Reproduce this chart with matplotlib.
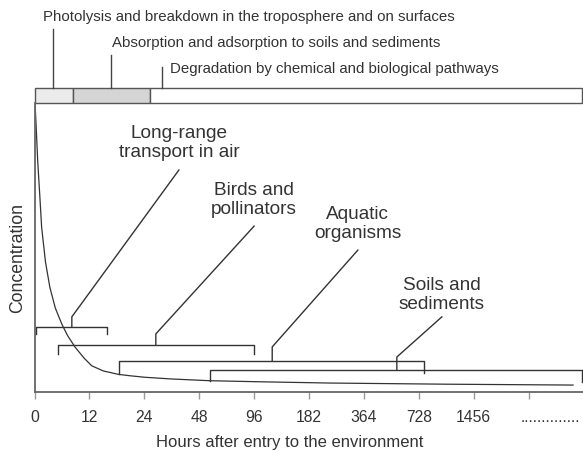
import numpy as np
import matplotlib.pyplot as plt
import matplotlib.transforms as mtransforms
from matplotlib.patches import Rectangle

plt.rcParams['font.family'] = ['Liberation Sans', 'DejaVu Sans']

# eixo x: posicoes igualmente espacadas, rotulos em horas
tick_pos = list(range(11))
tick_labels = ['0', '12', '24', '48', '96', '182', '364', '728', '1456', '', '']

# curva de concentracao (unidades arbitrarias)
curve_x = [0.01, 0.03, 0.058, 0.10, 0.13, 0.20, 0.28, 0.38, 0.50, 0.60, 0.74, 0.90,
           1.04, 1.25, 1.53, 1.75, 2.01, 2.50, 3.20, 4.20, 5.38, 7.50, 9.81]
curve_y = [99.7, 92.0, 80.0, 66.8, 57.0, 45.0, 36.2, 29.0, 23.4, 19.6, 15.5, 11.8,
           9.1, 7.3, 6.1, 5.6, 5.1, 4.5, 3.9, 3.5, 3.1, 2.7, 2.4]

# fases na barra superior
phase_edges = [0, 0.70, 2.10, 9.97]
phase_names = ['Photolysis and breakdown in the troposphere and on surfaces',
               'Absorption and adsorption to soils and sediments',
               'Degradation by chemical and biological pathways']
phase_mark = [0.34, 1.39, 2.32]

# chaves (janelas de exposicao)
bracket_names = ['Long-range\ntransport in air', 'Birds and\npollinators',
                 'Aquatic\norganisms', 'Soils and\nsediments']
bracket_start = [0.03, 0.43, 1.54, 3.20]
bracket_end = [1.32, 4.0, 7.09, 9.97]
bracket_level = [22.5, 16.4, 10.8, 7.7]
bracket_left_foot = [20.1, 13.1, 6.2, 3.8]
bracket_right_foot = [20.1, 13.1, 6.6, 3.5]
bracket_apex = [0.68, 2.21, 4.33, 6.60]

dark = '#333333'

fig = plt.figure(figsize=(5.83, 4.52), dpi=100)
ax = fig.add_axes([34.5 / 583, 59 / 452, 549 / 583, 289 / 452])
ax.set_xlim(0, 10)
ax.set_ylim(0, 100)

ax.plot(curve_x, curve_y, color=dark, lw=0.9)

# chaves
notch_up = [3.5, 3.7, 4.8, 4.4]
label_x = [2.63, 4.0, 5.89, 7.42]
label_y = [86.5, 66.8, 58.5, 33.9]
leader_top = [76.8, 57.4, 49.1, 26.0]
for i in range(len(bracket_names)):
    x0, x1 = bracket_start[i], bracket_end[i]
    lv = bracket_level[i]
    ax.plot([x0, x0, x1, x1], [bracket_left_foot[i], lv, lv, bracket_right_foot[i]],
            color=dark, lw=1.0, solid_joinstyle='round')
    a = bracket_apex[i]
    ax.plot([a, a, label_x[i]], [lv, lv + notch_up[i], leader_top[i]], color=dark, lw=1.0)
    ax.text(label_x[i], label_y[i], bracket_names[i], ha='center', va='center',
            fontsize=13.7, color=dark, linespacing=1.15)

# barra superior
trans = mtransforms.blended_transform_factory(ax.transData, ax.transAxes)
fills = ['#ebebeb', '#d5d5d5', 'white']
for i in range(3):
    ax.add_patch(Rectangle((phase_edges[i], 1.0), phase_edges[i + 1] - phase_edges[i], 0.052,
                           transform=trans, clip_on=False, facecolor=fills[i],
                           edgecolor='#555555', lw=1.0))
text_x = [0.16, 1.41, 2.47]
text_y = [1.301, 1.211, 1.121]
mark_top = [1.256, 1.166, 1.125]
for i in range(3):
    ax.plot([phase_mark[i], phase_mark[i]], [1.052, mark_top[i]], transform=trans,
            clip_on=False, color='#444444', lw=1.0)
    ax.text(text_x[i], text_y[i], phase_names[i], transform=trans, ha='left', va='center',
            fontsize=10.8, color=dark)

for s in ['top', 'right']:
    ax.spines[s].set_visible(False)
for s in ['left', 'bottom']:
    ax.spines[s].set_color('#666666')
    ax.spines[s].set_linewidth(1.3)

ax.set_yticks([])
ax.set_xticks(tick_pos)
ax.set_xticklabels(tick_labels, fontsize=11.3, color=dark)
ax.tick_params(axis='x', length=5, width=1, color='#999999', pad=7.5)
ax.text(8.85, -0.100, '..............', transform=trans, ha='left', va='baseline',
        fontsize=11.3, color=dark)

ax.set_xlabel('Hours after entry to the environment', fontsize=12, color=dark, va='center')
ax.xaxis.set_label_coords((290 - 34.5) / 549, -(443 - 393) / 289)
ax.set_ylabel('Concentration', fontsize=12.7, color=dark, va='center')
ax.yaxis.set_label_coords(-(34.5 - 18) / 549, (393 - 258) / 289)

fig.savefig('out.png', dpi=100)
